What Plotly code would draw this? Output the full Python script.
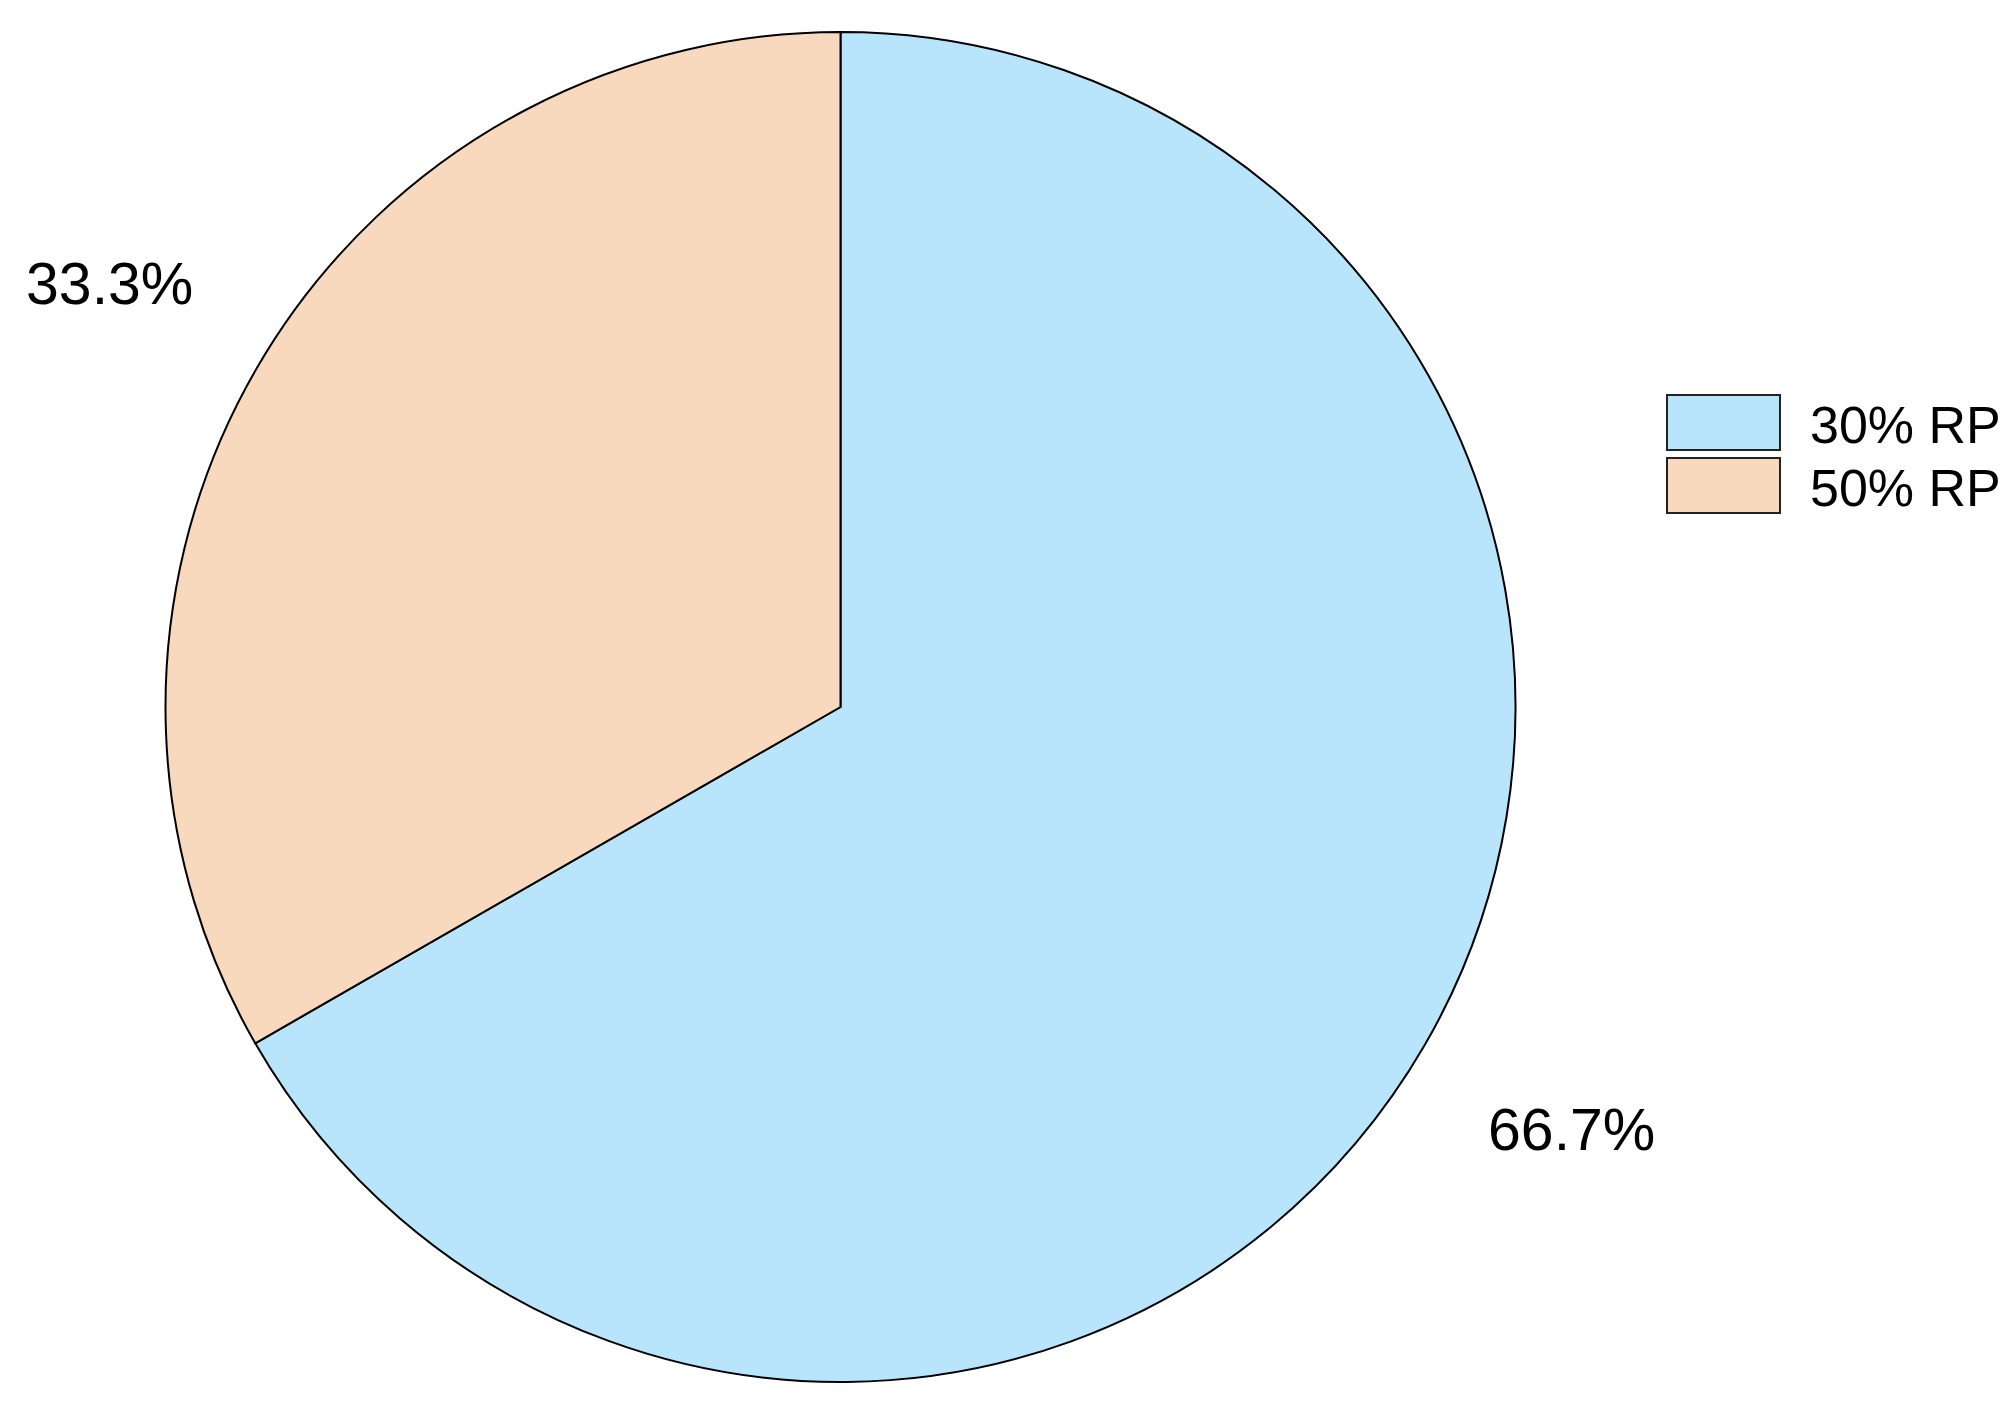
import math
import plotly.graph_objects as go

categories = ["30% RP", "50% RP"]
values = [66.7, 33.3]
colors = ["#B8E4FC", "#F9D9BE"]

W, H = 2013, 1413
# the html body has an 8px margin; convert screen pixels to figure pixels
OX, OY = 8, 8
cx, cy, r = 840.5 - OX, 707.0 - OY, 675.0

fig = go.Figure(go.Pie(
    labels=categories,
    values=values,
    sort=False,
    direction="clockwise",
    rotation=0,
    marker=dict(colors=colors, line=dict(color="black", width=2)),
    textinfo="none",
    hoverinfo="label+percent",
    showlegend=False,
    domain=dict(x=[(cx - r) / W, (cx + r) / W], y=[(H - cy - r) / H, (H - cy + r) / H]),
))

# percentage labels placed at each slice's mid angle, outside the pie
total = sum(values)
cum = 0.0
annotations = []
for v in values:
    mid = (cum + v / 2) / total * 2 * math.pi  # clockwise from top
    cum += v
    d = r * 1.252
    px = cx + d * math.sin(mid)
    py = cy - d * math.cos(mid)
    annotations.append(dict(
        x=px / W, y=1 - py / H, xref="paper", yref="paper",
        text=f"{v / total * 100:.1f}%", showarrow=False,
        font=dict(family="Liberation Sans, Arial", size=59, color="black"),
        xanchor="center", yanchor="middle",
    ))

# legend drawn as boxes + text
shapes = []
box_x0, box_x1 = 1667 - OX, 1780 - OX
row_tops = [395 - OY, 458 - OY]
box_h = 55
for cat, col, top in zip(categories, colors, row_tops):
    shapes.append(dict(
        type="rect", xref="paper", yref="paper",
        x0=box_x0 / W, x1=box_x1 / W,
        y0=1 - (top + box_h) / H, y1=1 - top / H,
        fillcolor=col, line=dict(color="#222222", width=2),
    ))
    annotations.append(dict(
        x=(1808 - OX) / W, y=1 - (top + box_h / 2 + 2) / H, xref="paper", yref="paper",
        text=cat, showarrow=False,
        font=dict(family="Liberation Sans, Arial", size=52, color="black"),
        xanchor="left", yanchor="middle",
    ))

fig.update_layout(
    width=W, height=H,
    margin=dict(l=0, r=0, t=0, b=0),
    paper_bgcolor="white", plot_bgcolor="white",
    annotations=annotations, shapes=shapes,
)

fig.write_html("out.html")
